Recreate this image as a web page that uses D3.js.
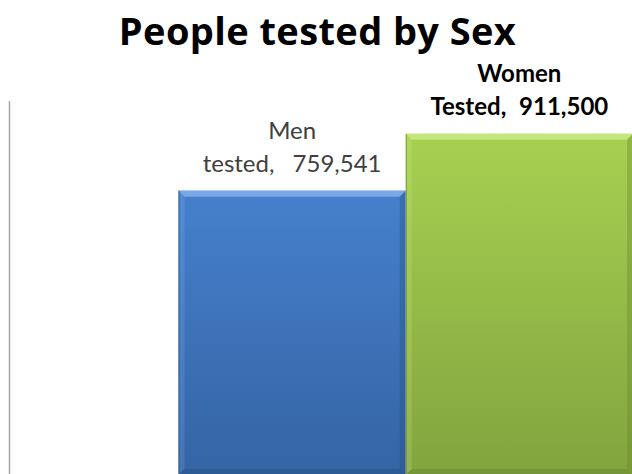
<!DOCTYPE html>
<html>
<head>
<meta charset="utf-8">
<script src="https://cdn.jsdelivr.net/npm/d3@7"></script>
<style>
  html, body { margin: 0; padding: 0; background: #fff; }
  svg { display: block; }
</style>
</head>
<body>
<svg id="chart" width="632" height="474"></svg>
<script>
// Chart data
const categories = ["Men", "Women"];
const values = [759541, 911500];
const labelLines = [["Men", "tested, 759,541"], ["Women", "Tested, 911,500"]];
const labelBold = [false, true];
const title = "People tested by Sex";

const W = 632, H = 474;
const svg = d3.select("#chart");

const x = d3.scaleBand().domain(categories).range([178.5, 633]).padding(0);
const y = d3.scaleLinear().domain([0, 1000000]).range([475, 100.6]);

const palette = {
  Men:   { top: "#4b89d9", bottom: "#3464a4", light: "#8dbaf2", dark: "#284f85" },
  Women: { top: "#abd553", bottom: "#82a43e", light: "#d2f090", dark: "#67852f" }
};

const defs = svg.append("defs");
categories.forEach(c => {
  const g = defs.append("linearGradient").attr("id", "grad-" + c)
    .attr("gradientUnits", "userSpaceOnUse")
    .attr("x1", 0).attr("x2", 0)
    .attr("y1", y(1000000)).attr("y2", y(0));
  g.append("stop").attr("offset", "0%").attr("stop-color", palette[c].top);
  g.append("stop").attr("offset", "100%").attr("stop-color", palette[c].bottom);
});

const FONT = "Lato, 'Open Sans', sans-serif";

// Title
svg.append("text")
  .attr("x", 317.5).attr("y", 45)
  .attr("text-anchor", "middle")
  .attr("font-family", "'Open Sans', sans-serif")
  .attr("font-weight", "bold")
  .attr("font-size", 38)
  .attr("letter-spacing", 0.4)
  .attr("fill", "#000")
  .text(title);

// Value axis line
const axis = d3.axisLeft(y).ticks(0).tickSize(0).tickFormat("");
const axisG = svg.append("g").attr("transform", "translate(9,0)").call(axis);
axisG.select(".domain").attr("stroke", "#a6a6a6").attr("stroke-width", 1.5);

// Bars with bevelled edges
const bev = 6;
const bars = svg.append("g").selectAll("g.bar")
  .data(categories.map((c, i) => ({ c, v: values[i], i })))
  .join("g").attr("class", "bar");

bars.each(function(d) {
  const g = d3.select(this);
  const x0 = x(d.c), x1 = x(d.c) + x.bandwidth();
  const y0 = y(d.v), y1 = y(0);
  const p = palette[d.c];
  g.append("rect").attr("x", x0).attr("y", y0)
    .attr("width", x1 - x0).attr("height", y1 - y0)
    .attr("fill", "url(#grad-" + d.c + ")");
  // top bevel
  g.append("polygon")
    .attr("points", [[x0, y0], [x1, y0], [x1 - bev, y0 + bev], [x0 + bev, y0 + bev]].join(" "))
    .attr("fill", p.light).attr("opacity", 0.7);
  // left bevel
  g.append("polygon")
    .attr("points", [[x0, y0], [x0 + bev, y0 + bev], [x0 + bev, y1 - bev], [x0, y1]].join(" "))
    .attr("fill", p.light).attr("opacity", 0.2);
  // right bevel
  g.append("polygon")
    .attr("points", [[x1, y0], [x1, y1], [x1 - bev, y1 - bev], [x1 - bev, y0 + bev]].join(" "))
    .attr("fill", p.dark).attr("opacity", 0.35);
  // bottom bevel
  g.append("polygon")
    .attr("points", [[x0, y1], [x1, y1], [x1 - bev, y1 - bev], [x0 + bev, y1 - bev]].join(" "))
    .attr("fill", p.dark).attr("opacity", 0.5);
  // thin dark outline on the left edge
  g.append("line").attr("x1", x0 + 0.5).attr("x2", x0 + 0.5)
    .attr("y1", y0).attr("y2", y1)
    .attr("stroke", p.dark).attr("stroke-width", 1).attr("opacity", 0.7);
});

// Data labels
bars.each(function(d) {
  const cx = x(d.c) + x.bandwidth() / 2;
  const bold = labelBold[d.i];
  const t = d3.select(this).append("text")
    .attr("text-anchor", "middle")
    .attr("font-family", FONT)
    .attr("font-weight", bold ? "bold" : "normal")
    .attr("font-size", 24)
    .attr("word-spacing", bold ? 7 : 12)
    .attr("fill", bold ? "#000" : "#404040");
  const lines = labelLines[d.i];
  const lh = 33.5;
  const base = y(d.v) - 18.5;
  lines.forEach((s, k) => {
    t.append("tspan").attr("x", cx)
      .attr("y", base - (lines.length - 1 - k) * lh)
      .text(s);
  });
});
</script>
</body>
</html>
